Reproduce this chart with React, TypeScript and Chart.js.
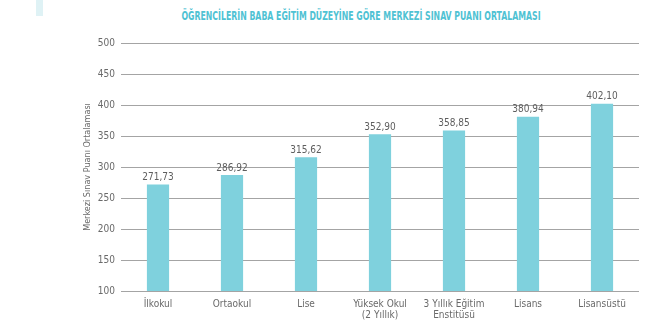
import React, { useEffect, useLayoutEffect, useRef, useState } from "react";
import { Chart, registerables } from "chart.js";

Chart.register(...registerables);

const TITLE = "ÖĞRENCİLERİN BABA EĞİTİM DÜZEYİNE GÖRE MERKEZİ SINAV PUANI ORTALAMASI";
const Y_TITLE = "Merkezi Sınav Puanı Ortalaması";
const categories: (string | string[])[] = [
  "İlkokul",
  "Ortaokul",
  "Lise",
  ["Yüksek Okul", "(2 Yıllık)"],
  ["3 Yıllık Eğitim", "Enstitüsü"],
  "Lisans",
  "Lisansüstü",
];
const values = [271.73, 286.92, 315.62, 352.9, 358.85, 380.94, 402.1];
const Y_MIN = 100;
const Y_MAX = 500;
const Y_STEP = 50;

const FONT = "'Liberation Sans Narrow', 'DejaVu Sans Condensed', 'Roboto', sans-serif";
const TEXT = "#6a6a6a";

const valueLabels = {
  id: "valueLabels",
  afterDatasetsDraw(chart: any) {
    const ctx = chart.ctx;
    const meta = chart.getDatasetMeta(0);
    ctx.save();
    ctx.fillStyle = "#5e5e5e";
    ctx.font = `10px ${FONT}`;
    ctx.textAlign = "center";
    ctx.textBaseline = "bottom";
    meta.data.forEach((bar: any, i: number) => {
      const v = chart.data.datasets[0].data[i] as number;
      ctx.fillText(v.toFixed(2).replace(".", ","), bar.x, bar.y - 2);
    });
    ctx.restore();
  },
};

export default function App() {
  const canvasRef = useRef<HTMLCanvasElement>(null);
  const titleRef = useRef<HTMLSpanElement>(null);
  const [scale, setScale] = useState(1);

  useLayoutEffect(() => {
    if (titleRef.current) {
      const w = titleRef.current.offsetWidth;
      if (w > 0) setScale(359 / w);
    }
  }, []);

  useEffect(() => {
    if (!canvasRef.current) return;
    const chart = new Chart(canvasRef.current, {
      type: "bar",
      data: {
        labels: categories,
        datasets: [
          {
            data: values,
            backgroundColor: "#7fd1dd",
            categoryPercentage: 1,
            barPercentage: 0.3,
          },
        ],
      },
      options: {
        animation: false,
        responsive: false,
        maintainAspectRatio: false,
        layout: { padding: { left: 78, right: 21, top: 43, bottom: 9 } },
        plugins: {
          legend: { display: false },
          tooltip: { enabled: false },
          title: { display: false },
        },
        scales: {
          x: {
            grid: { display: false, drawTicks: false },
            border: { display: false },
            ticks: {
              color: TEXT,
              font: { family: FONT, size: 10, lineHeight: 1.1 },
              padding: 8,
              maxRotation: 0,
              autoSkip: false,
            },
            afterFit(scale: any) {
              scale.height = 30;
            },
          },
          y: {
            min: Y_MIN,
            max: Y_MAX,
            grid: { color: "#a4a4a4", lineWidth: 1, drawTicks: false },
            border: { display: false },
            ticks: {
              stepSize: Y_STEP,
              color: TEXT,
              font: { family: FONT, size: 10 },
              padding: 6,
            },
            title: {
              display: true,
              text: Y_TITLE,
              color: TEXT,
              font: { family: FONT, size: 9 },
              padding: { top: 4, bottom: 4 },
            },
            afterFit(scale: any) {
              scale.width = 43;
            },
          },
        },
      },
      plugins: [valueLabels],
    });
    return () => chart.destroy();
  }, []);

  return (
    <div
      style={{
        position: "fixed",
        left: 0,
        top: 0,
        width: 660,
        height: 330,
        background: "#ffffff",
        overflow: "hidden",
      }}
    >
      <div
        style={{
          position: "absolute",
          left: 36,
          top: 0,
          width: 7,
          height: 16,
          background: "#dff2f5",
        }}
      />
      <div
        style={{
          position: "absolute",
          left: 361,
          top: 15,
          transform: `translate(-50%, -50%) scaleX(${scale})`,
          whiteSpace: "nowrap",
        }}
      >
        <span
          ref={titleRef}
          style={{
            display: "inline-block",
            fontFamily: FONT,
            fontWeight: 700,
            fontSize: 12,
            color: "#4fc2d3",
            lineHeight: "14px",
          }}
        >
          {TITLE}
        </span>
      </div>
      <canvas
        ref={canvasRef}
        width={660}
        height={330}
        style={{ position: "absolute", left: 0, top: 0, width: 660, height: 330 }}
      />
    </div>
  );
}
